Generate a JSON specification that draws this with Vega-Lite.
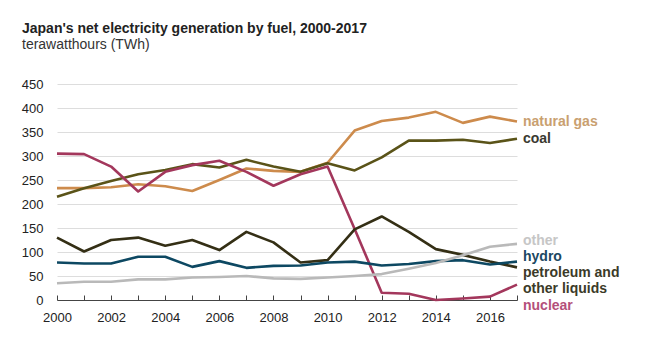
{
  "$schema": "https://vega.github.io/schema/vega-lite/v6.json",
  "autosize": {"type": "none"},
  "padding": {"left": 57, "top": 84, "right": 133, "bottom": 58},
  "width": 460,
  "height": 216,
  "background": "white",
  "config": {
    "font": "Liberation Sans",
    "view": {"stroke": null}
  },
  "title": {
    "text": "Japan's net electricity generation by fuel, 2000-2017",
    "subtitle": "terawatthours (TWh)",
    "anchor": "start",
    "frame": "group",
    "dx": -35,
    "offset": 26,
    "font": "Liberation Sans",
    "fontSize": 14,
    "fontWeight": "bold",
    "color": "#222222",
    "subtitleFont": "Liberation Sans",
    "subtitleFontSize": 14,
    "subtitleColor": "#333333",
    "subtitlePadding": 2
  },
  "datasets": {
    "gen": [
      {"year": 2000, "fuel": "natural gas", "twh": 233},
      {"year": 2001, "fuel": "natural gas", "twh": 233},
      {"year": 2002, "fuel": "natural gas", "twh": 235},
      {"year": 2003, "fuel": "natural gas", "twh": 241},
      {"year": 2004, "fuel": "natural gas", "twh": 237},
      {"year": 2005, "fuel": "natural gas", "twh": 227},
      {"year": 2006, "fuel": "natural gas", "twh": 250},
      {"year": 2007, "fuel": "natural gas", "twh": 274},
      {"year": 2008, "fuel": "natural gas", "twh": 269},
      {"year": 2009, "fuel": "natural gas", "twh": 267},
      {"year": 2010, "fuel": "natural gas", "twh": 286},
      {"year": 2011, "fuel": "natural gas", "twh": 353},
      {"year": 2012, "fuel": "natural gas", "twh": 373},
      {"year": 2013, "fuel": "natural gas", "twh": 380},
      {"year": 2014, "fuel": "natural gas", "twh": 392},
      {"year": 2015, "fuel": "natural gas", "twh": 369},
      {"year": 2016, "fuel": "natural gas", "twh": 382},
      {"year": 2017, "fuel": "natural gas", "twh": 372},
      {"year": 2000, "fuel": "coal", "twh": 215},
      {"year": 2001, "fuel": "coal", "twh": 233},
      {"year": 2002, "fuel": "coal", "twh": 248},
      {"year": 2003, "fuel": "coal", "twh": 262},
      {"year": 2004, "fuel": "coal", "twh": 271},
      {"year": 2005, "fuel": "coal", "twh": 283},
      {"year": 2006, "fuel": "coal", "twh": 276},
      {"year": 2007, "fuel": "coal", "twh": 292},
      {"year": 2008, "fuel": "coal", "twh": 278},
      {"year": 2009, "fuel": "coal", "twh": 267},
      {"year": 2010, "fuel": "coal", "twh": 285},
      {"year": 2011, "fuel": "coal", "twh": 270},
      {"year": 2012, "fuel": "coal", "twh": 297},
      {"year": 2013, "fuel": "coal", "twh": 332},
      {"year": 2014, "fuel": "coal", "twh": 332},
      {"year": 2015, "fuel": "coal", "twh": 334},
      {"year": 2016, "fuel": "coal", "twh": 327},
      {"year": 2017, "fuel": "coal", "twh": 336},
      {"year": 2000, "fuel": "nuclear", "twh": 305},
      {"year": 2001, "fuel": "nuclear", "twh": 304},
      {"year": 2002, "fuel": "nuclear", "twh": 278},
      {"year": 2003, "fuel": "nuclear", "twh": 226},
      {"year": 2004, "fuel": "nuclear", "twh": 267},
      {"year": 2005, "fuel": "nuclear", "twh": 281},
      {"year": 2006, "fuel": "nuclear", "twh": 290},
      {"year": 2007, "fuel": "nuclear", "twh": 267},
      {"year": 2008, "fuel": "nuclear", "twh": 238},
      {"year": 2009, "fuel": "nuclear", "twh": 262},
      {"year": 2010, "fuel": "nuclear", "twh": 278},
      {"year": 2011, "fuel": "nuclear", "twh": 148},
      {"year": 2012, "fuel": "nuclear", "twh": 15},
      {"year": 2013, "fuel": "nuclear", "twh": 13},
      {"year": 2014, "fuel": "nuclear", "twh": 0},
      {"year": 2015, "fuel": "nuclear", "twh": 3},
      {"year": 2016, "fuel": "nuclear", "twh": 7},
      {"year": 2017, "fuel": "nuclear", "twh": 32},
      {"year": 2000, "fuel": "petroleum", "twh": 130},
      {"year": 2001, "fuel": "petroleum", "twh": 101},
      {"year": 2002, "fuel": "petroleum", "twh": 125},
      {"year": 2003, "fuel": "petroleum", "twh": 130},
      {"year": 2004, "fuel": "petroleum", "twh": 113},
      {"year": 2005, "fuel": "petroleum", "twh": 125},
      {"year": 2006, "fuel": "petroleum", "twh": 104},
      {"year": 2007, "fuel": "petroleum", "twh": 142},
      {"year": 2008, "fuel": "petroleum", "twh": 120},
      {"year": 2009, "fuel": "petroleum", "twh": 78},
      {"year": 2010, "fuel": "petroleum", "twh": 83},
      {"year": 2011, "fuel": "petroleum", "twh": 147},
      {"year": 2012, "fuel": "petroleum", "twh": 174},
      {"year": 2013, "fuel": "petroleum", "twh": 142},
      {"year": 2014, "fuel": "petroleum", "twh": 106},
      {"year": 2015, "fuel": "petroleum", "twh": 94},
      {"year": 2016, "fuel": "petroleum", "twh": 80},
      {"year": 2017, "fuel": "petroleum", "twh": 68},
      {"year": 2000, "fuel": "hydro", "twh": 78},
      {"year": 2001, "fuel": "hydro", "twh": 76},
      {"year": 2002, "fuel": "hydro", "twh": 76},
      {"year": 2003, "fuel": "hydro", "twh": 90},
      {"year": 2004, "fuel": "hydro", "twh": 90},
      {"year": 2005, "fuel": "hydro", "twh": 69},
      {"year": 2006, "fuel": "hydro", "twh": 81},
      {"year": 2007, "fuel": "hydro", "twh": 67},
      {"year": 2008, "fuel": "hydro", "twh": 71},
      {"year": 2009, "fuel": "hydro", "twh": 72},
      {"year": 2010, "fuel": "hydro", "twh": 78},
      {"year": 2011, "fuel": "hydro", "twh": 80},
      {"year": 2012, "fuel": "hydro", "twh": 72},
      {"year": 2013, "fuel": "hydro", "twh": 75},
      {"year": 2014, "fuel": "hydro", "twh": 81},
      {"year": 2015, "fuel": "hydro", "twh": 83},
      {"year": 2016, "fuel": "hydro", "twh": 74},
      {"year": 2017, "fuel": "hydro", "twh": 80},
      {"year": 2000, "fuel": "other", "twh": 35},
      {"year": 2001, "fuel": "other", "twh": 38},
      {"year": 2002, "fuel": "other", "twh": 38},
      {"year": 2003, "fuel": "other", "twh": 43},
      {"year": 2004, "fuel": "other", "twh": 43},
      {"year": 2005, "fuel": "other", "twh": 47},
      {"year": 2006, "fuel": "other", "twh": 48},
      {"year": 2007, "fuel": "other", "twh": 50},
      {"year": 2008, "fuel": "other", "twh": 45},
      {"year": 2009, "fuel": "other", "twh": 44},
      {"year": 2010, "fuel": "other", "twh": 47},
      {"year": 2011, "fuel": "other", "twh": 50},
      {"year": 2012, "fuel": "other", "twh": 54},
      {"year": 2013, "fuel": "other", "twh": 65},
      {"year": 2014, "fuel": "other", "twh": 77},
      {"year": 2015, "fuel": "other", "twh": 93},
      {"year": 2016, "fuel": "other", "twh": 111},
      {"year": 2017, "fuel": "other", "twh": 117}
    ],
    "labels": [
      {"fuel": "natural gas", "text": "natural gas", "year": 2017, "twh": 371},
      {"fuel": "coal", "text": "coal", "year": 2017, "twh": 335},
      {"fuel": "other", "text": "other", "year": 2017, "twh": 123},
      {"fuel": "hydro", "text": "hydro", "year": 2017, "twh": 90},
      {"fuel": "petroleum", "text": "petroleum and", "year": 2017, "twh": 56},
      {"fuel": "petroleum", "text": "other liquids", "year": 2017, "twh": 23},
      {"fuel": "nuclear", "text": "nuclear", "year": 2017, "twh": -12}
    ]
  },
  "encoding": {
    "x": {
      "field": "year",
      "type": "quantitative",
      "scale": {"domain": [2000, 2017], "nice": false, "zero": false},
      "axis": {
        "title": null,
        "values": [2000, 2001, 2002, 2003, 2004, 2005, 2006, 2007, 2008, 2009, 2010, 2011, 2012, 2013, 2014, 2015, 2016, 2017],
        "labelExpr": "datum.value % 2 == 0 ? datum.value : ''",
        "format": "d",
        "grid": false,
        "domainColor": "#444444",
        "domainWidth": 1,
        "tickColor": "#444444",
        "tickSize": -5,
        "labelPadding": 16,
        "labelFont": "Liberation Sans",
        "labelFontSize": 13,
        "labelColor": "#222222",
        "labelFlush": false,
        "labelOverlap": false
      }
    },
    "y": {
      "field": "twh",
      "type": "quantitative",
      "scale": {"domain": [0, 450], "nice": false},
      "axis": {
        "title": null,
        "values": [0, 50, 100, 150, 200, 250, 300, 350, 400, 450],
        "domain": false,
        "ticks": false,
        "gridColor": "#dddddd",
        "gridWidth": 1,
        "labelPadding": 14,
        "labelFont": "Liberation Sans",
        "labelFontSize": 13,
        "labelColor": "#222222",
        "labelOverlap": false
      }
    }
  },
  "layer": [
    {
      "data": {"name": "gen"},
      "mark": {"type": "line", "strokeWidth": 2.6, "strokeJoin": "round"},
      "encoding": {
        "color": {
          "field": "fuel",
          "type": "nominal",
          "legend": null,
          "scale": {
            "domain": ["natural gas", "coal", "nuclear", "petroleum", "hydro", "other"],
            "range": ["#cd8b4c", "#5a5318", "#a3375c", "#342f15", "#0d4862", "#b9b9b9"]
          }
        },
        "order": {"field": "year"}
      }
    },
    {
      "data": {"name": "labels"},
      "mark": {"type": "text", "align": "left", "baseline": "middle", "dx": 6, "fontSize": 14, "fontWeight": "bold", "font": "Liberation Sans"},
      "encoding": {
        "text": {"field": "text"},
        "color": {
          "field": "fuel",
          "type": "nominal",
          "legend": null,
          "scale": {
            "domain": ["natural gas", "coal", "nuclear", "petroleum", "hydro", "other"],
            "range": ["#c9a070", "#3a3a30", "#b4507a", "#3b3a28", "#1b4862", "#c6c6c6"]
          }
        }
      }
    }
  ],
  "resolve": {"scale": {"color": "independent"}}
}
